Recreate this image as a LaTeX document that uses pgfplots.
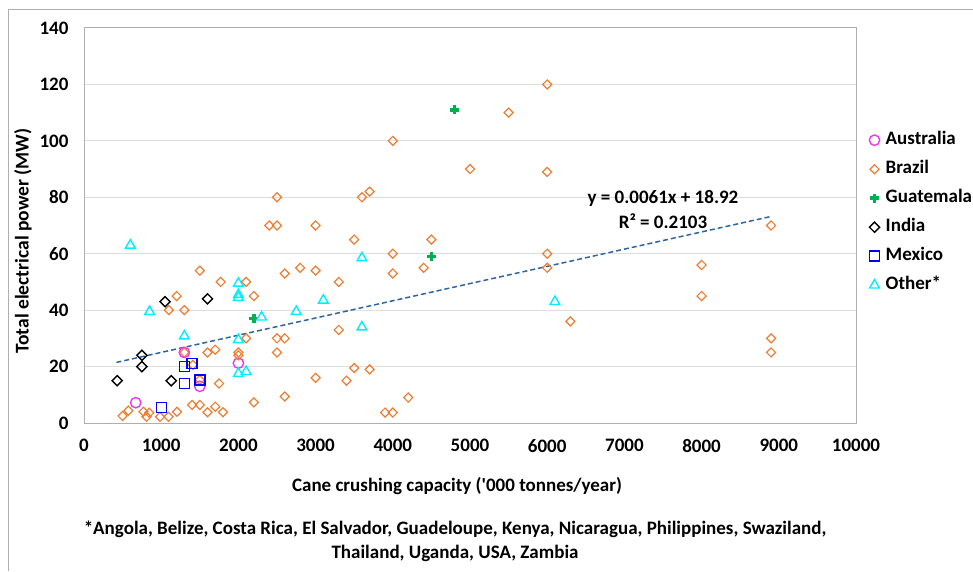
\documentclass[border=0pt]{standalone}
\usepackage{fontspec}
\setmainfont{Carlito}
\usepackage{pgfplots}
\pgfplotsset{compat=1.18}
\definecolor{aus}{RGB}{232,58,232}
\definecolor{bra}{RGB}{237,125,49}
\definecolor{gua}{RGB}{0,176,80}
\definecolor{mex}{RGB}{0,0,255}
\definecolor{oth}{RGB}{0,238,255}
\definecolor{trend}{RGB}{46,100,160}
\definecolor{gridc}{RGB}{222,222,222}
\definecolor{axc}{RGB}{175,175,175}
\begin{document}
\begin{tikzpicture}
\path[use as bounding box] (0pt,0pt) rectangle (973pt,571pt);
\draw[axc, line width=1pt] (8pt,0pt) -- (8pt,561pt) -- (973pt,561pt);
\begin{axis}[
  at={(84pt,148pt)}, anchor=south west,
  scale only axis, width=772pt, height=395pt,
  xmin=0, xmax=10000, ymin=0, ymax=140,
  xtick={0,1000,...,10000}, ytick={0,20,...,140},
  scaled x ticks=false,
  xticklabel style={/pgf/number format/1000 sep={}, font=\fontsize{19}{21}\selectfont\bfseries, yshift=-13pt},
  yticklabel style={font=\fontsize{19}{21}\selectfont\bfseries, xshift=-12pt},
  /pgf/number format/assume math mode=true,
  major tick length=0pt,
  axis line style={axc, line width=1pt},
  ymajorgrids, grid style={gridc, line width=1pt},
  clip=false,
  legend cell align=left,
  legend style={draw=none, fill=none, inner sep=0pt,
    at={(1.017,0.738)}, anchor=north west,
    font=\fontsize{19}{21}\selectfont\bfseries,
    nodes={inner sep=0pt, text height=13pt, text depth=4pt},
    row sep=12pt},
  legend image code/.code={\draw[#1] plot coordinates {(5pt,0pt)};},
  /tikz/every odd column/.append style={column sep=6pt},
]
\addplot[only marks, mark=o, mark size=5.2pt, aus, line width=1.4pt] coordinates {
(670,7.2) (1300,25) (1500,13) (2000,21.2)
};
\addlegendentry{Australia}
\addplot[only marks, mark=square, mark size=3.2pt, mark options={rotate=45}, bra, line width=1.2pt] coordinates {
(500,2.5) (575,4.4) (770,4) (810,2.2) (845,3.6) (985,2.2) (1095,2.2) (1205,4) (1400,6.4) (1500,6.4) (1600,3.8) (1700,5.8) (1800,3.8)
(1750,14) (1500,15.3) (1410,20.6) (1300,25) (1600,25) (1700,26) (2000,25) (2000,24) (2500,25)
(2100,30) (2500,30) (2600,30)
(2200,7.3) (2600,9.4) (3000,16) (3400,15) (3500,19.5) (3700,19) (3300,33) (3900,3.7) (4000,3.7) (4200,9)
(1100,40) (1300,40) (1200,45) (2200,45) (1770,50) (2100,50) (1500,54) (2600,53) (2800,55) (3000,54) (3300,50)
(2400,70) (2500,70) (2500,80) (3000,70) (3500,65) (3600,80) (3700,82) (4000,60) (4000,53) (4400,55) (4500,65)
(4000,100) (5000,90) (5500,110) (6000,120) (6000,89) (6000,60) (6000,55) (6300,36)
(8000,56) (8000,45) (8900,70) (8900,30) (8900,25)
};
\addlegendentry{Brazil}
\addplot[only marks, mark=+, mark size=4.6pt, gua, line width=3.4pt] coordinates {
(2200,37) (4500,59) (4800,111)
};
\addlegendentry{Guatemala}
\addplot[only marks, mark=square, mark size=3.6pt, mark options={rotate=45}, black, line width=1.4pt] coordinates {
(430,15) (750,24) (750,20) (1050,43) (1130,15) (1600,44)
};
\addlegendentry{India}
\addplot[only marks, mark=square, mark size=5pt, mex, line width=1.4pt] coordinates {
(1000,5.6) (1300,14) (1300,20) (1400,21) (1500,15.3)
};
\addlegendentry{Mexico}
\addplot[only marks, mark=triangle, mark size=5.6pt, oth, line width=1.4pt] coordinates {
(600,63) (850,39.5) (1300,30.8) (2000,49.5) (2000,45.5) (2000,44.5) (2000,29.5) (2000,17.5) (2100,18.2) (2300,37.5) (2750,39.5) (3100,43.5) (3600,58.5) (3600,34) (6100,43)
};
\addlegendentry{Other*}
\addplot[forget plot, trend, dashed, dash pattern=on 5pt off 3pt, line width=1.5pt] coordinates {
(420,21.48) (8900,73.21)
};
\node[font=\fontsize{19}{21}\selectfont\bfseries] at (axis cs:7500,79.6) {y = 0.0061x + 18.92};
\node[font=\fontsize{19}{21}\selectfont\bfseries] at (axis cs:7500,71.4) {R² = 0.2103};
\end{axis}
\node[font=\fontsize{19}{21}\selectfont\bfseries] at (457pt,85pt) {Cane crushing capacity (\textquotesingle000 tonnes/year)};
\node[font=\fontsize{19.5}{21}\selectfont\bfseries, rotate=90] at (23pt,330pt) {Total electrical power (MW)};
\node[font=\fontsize{19}{21}\selectfont\bfseries] at (455pt,42pt) {*Angola, Belize, Costa Rica, El Salvador, Guadeloupe, Kenya, Nicaragua, Philippines, Swaziland,};
\node[font=\fontsize{19}{21}\selectfont\bfseries] at (455pt,18pt) {Thailand, Uganda, USA, Zambia};
\end{tikzpicture}
\end{document}
